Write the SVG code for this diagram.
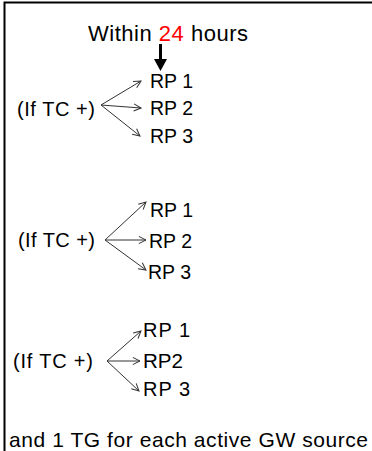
<svg xmlns="http://www.w3.org/2000/svg" width="372" height="451" viewBox="0 0 372 451">
<defs>
<style>
text{font-family:"Liberation Sans",Arial,sans-serif;fill:#000;}
.t{font-size:20px;}
.c{stroke:#333;stroke-width:1;fill:none;marker-end:url(#open);}
</style>
<marker id="open" viewBox="0 0 10 10" refX="9" refY="5" markerWidth="9" markerHeight="9" markerUnits="userSpaceOnUse" orient="auto">
<path d="M1,1 L9,5 L1,9" fill="none" stroke="#333" stroke-width="1.1"/>
</marker>
</defs>
<rect width="372" height="451" fill="#fff"/>
<path d="M4.5,451 V2.5 H372" fill="none" stroke="#000" stroke-width="2"/>
<g id="header">
<text x="88" y="41" font-size="22" textLength="160" lengthAdjust="spacing">Within <tspan fill="#FF0000">24</tspan> hours</text>
</g>
<g id="connectors">
<line x1="160.5" y1="44" x2="160.5" y2="60" stroke="#000" stroke-width="3"/>
<polygon points="154,59 167,59 160.5,71" fill="#000"/>
<line class="c" x1="101" y1="105" x2="141" y2="81"/>
<line class="c" x1="101" y1="105" x2="141" y2="108"/>
<line class="c" x1="101" y1="105" x2="140" y2="136"/>
<line class="c" x1="105" y1="240" x2="146" y2="202"/>
<line class="c" x1="105" y1="240" x2="146" y2="240"/>
<line class="c" x1="105" y1="240" x2="146" y2="270"/>
<line class="c" x1="107" y1="361" x2="141" y2="331"/>
<line class="c" x1="107" y1="361" x2="140" y2="361"/>
<line class="c" x1="107" y1="361" x2="139" y2="391"/>
</g>
<g id="group1">
<text class="t" x="17" y="116" textLength="78" lengthAdjust="spacing">(If TC +)</text>
<text class="t" x="150" y="88" textLength="43" lengthAdjust="spacingAndGlyphs">RP 1</text>
<text class="t" x="150" y="115" textLength="43" lengthAdjust="spacingAndGlyphs">RP 2</text>
<text class="t" x="150" y="143" textLength="43" lengthAdjust="spacingAndGlyphs">RP 3</text>
</g>
<g id="group2">
<text class="t" x="18" y="247" textLength="77" lengthAdjust="spacing">(If TC +)</text>
<text class="t" x="150" y="217" textLength="43" lengthAdjust="spacingAndGlyphs">RP 1</text>
<text class="t" x="149" y="248" textLength="43" lengthAdjust="spacingAndGlyphs">RP 2</text>
<text class="t" x="148" y="279" textLength="43" lengthAdjust="spacingAndGlyphs">RP 3</text>
</g>
<g id="group3">
<text class="t" x="13" y="368" textLength="80" lengthAdjust="spacing">(If TC +)</text>
<text class="t" x="143" y="337" textLength="47" lengthAdjust="spacing">RP 1</text>
<text class="t" x="143" y="368" textLength="40" lengthAdjust="spacingAndGlyphs">RP2</text>
<text class="t" x="143" y="396" textLength="47" lengthAdjust="spacing">RP 3</text>
</g>
<g id="footer">
<text x="9" y="447" font-size="21" textLength="359" lengthAdjust="spacing">and 1 TG for each active GW source</text>
</g>
</svg>
